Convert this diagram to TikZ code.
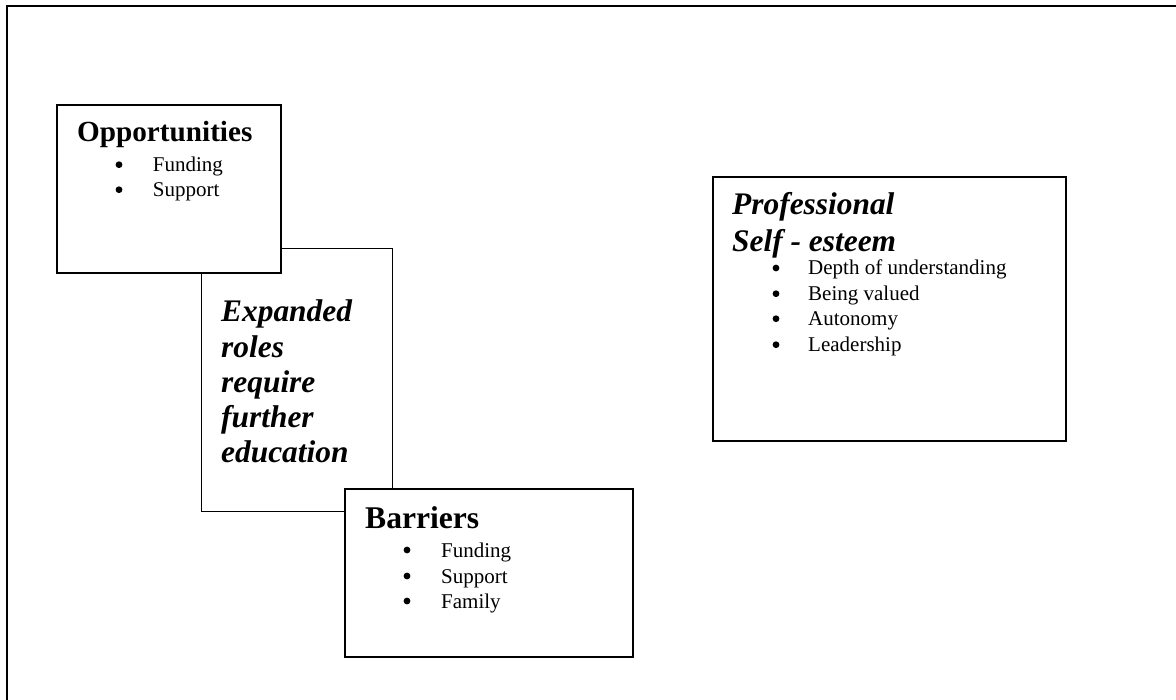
\documentclass[tikz,border=0pt]{standalone}
\usepackage{fontspec}
\setmainfont{Liberation Serif}
\tikzset{
  frame/.style={line width=2.3pt},
  box/.style={draw, fill=white, anchor=north west, inner sep=0pt},
  head/.style={anchor=base west, inner sep=0pt},
  ihead/.style={anchor=base west, inner sep=0pt, font=\fontsize{31.4}{36}\selectfont\bfseries\itshape},
  itm/.style={anchor=base west, inner sep=0pt, font=\fontsize{21}{25}\selectfont},
  bul/.style={circle, fill=black, inner sep=0pt, minimum size=6.8pt, yshift=7pt}
}
\begin{document}
\begin{tikzpicture}[x=1pt,y=-1pt]
\useasboundingbox (0,0) rectangle (1176,700);
% outer frame (only left and top edges visible)
\coordinate (fbl) at (7,700);
\coordinate (ftl) at (7,6);
\coordinate (ftr) at (1176,6);
\draw[frame] (fbl) -- (ftl) -- (ftr);

% Expanded roles box (behind)
\node[box, line width=1.2pt, minimum width=191pt, minimum height=263pt] (exp) at (201,248) {};
% Opportunities box
\node[box, line width=2pt, minimum width=224pt, minimum height=168pt] (opp) at (56,104) {};
% Barriers box
\node[box, line width=1.6pt, minimum width=288pt, minimum height=168pt] (bar) at (344,488) {};
% Professional box
\node[box, line width=1.6pt, minimum width=353pt, minimum height=264pt] (pro) at (712,176) {};

% Opportunities text
\node[head, font=\fontsize{29.2}{35}\selectfont\bfseries] (opph) at (77,141.7) {Opportunities};
\node[bul] (oppb1) at (119,171.7) {};
\node[itm] (oppt1) at (152.7,171.7) {Funding};
\node[bul] (oppb2) at (119,196.7) {};
\node[itm] (oppt2) at (152.7,196.7) {Support};

% Expanded text
\node[ihead] (exph) at (221,322) {Expanded};
\node[ihead] (expt2) at (221,358) {roles};
\node[ihead] (expt3) at (221,392.5) {require};
\node[ihead] (expt4) at (221,428) {further};
\node[ihead] (expt5) at (221,463) {education};

% Barriers text
\node[head, font=\fontsize{31.6}{36}\selectfont\bfseries] (barh) at (365,529) {Barriers};
\node[bul] (barb1) at (407,557) {};
\node[itm] (bart1) at (441,557) {Funding};
\node[bul] (barb2) at (407,583) {};
\node[itm] (bart2) at (441,583) {Support};
\node[bul] (barb3) at (407,608) {};
\node[itm] (bart3) at (441,608) {Family};

% Professional text
\node[ihead] (proh1) at (732,215) {Professional};
\node[ihead] (proh2) at (732,252) {Self - esteem};
\node[bul] (prob1) at (776,275) {};
\node[itm] (prot1) at (808,275) {Depth of understanding};
\node[bul] (prob2) at (776,300.7) {};
\node[itm] (prot2) at (808,300.7) {Being valued};
\node[bul] (prob3) at (776,325.7) {};
\node[itm] (prot3) at (808,325.7) {Autonomy};
\node[bul] (prob4) at (776,351.7) {};
\node[itm] (prot4) at (808,351.7) {Leadership};
\end{tikzpicture}
\end{document}
